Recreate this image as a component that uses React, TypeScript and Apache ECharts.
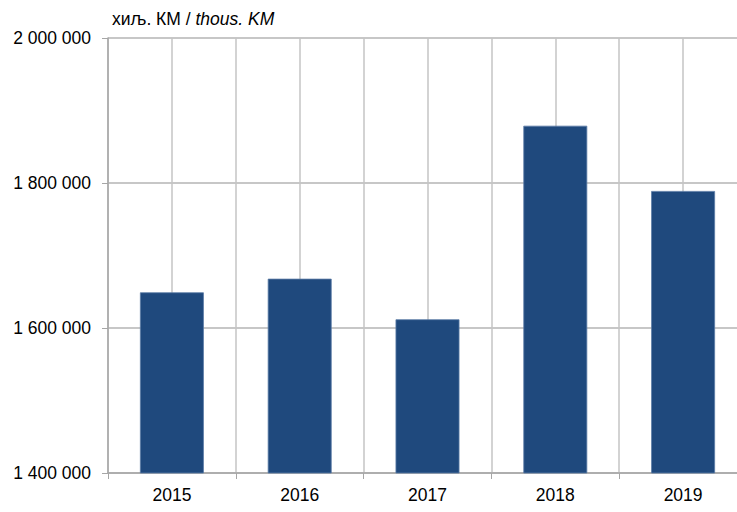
import React, { useEffect, useRef } from "react";
import * as echarts from "echarts";

const categories = ["2015", "2016", "2017", "2018", "2019"];
const values = [1649200, 1668000, 1612000, 1879000, 1789000];
const yTicks = { min: 1400000, max: 2000000, interval: 200000 };
const titleNormal = "хиљ. КМ / ";
const titleItalic = "thous. KM";

function fmt(v: number): string {
  return String(v).replace(/\B(?=(\d{3})+(?!\d))/g, " ");
}

export default function App() {
  const ref = useRef<HTMLDivElement>(null);
  useEffect(() => {
    const chart = echarts.init(ref.current!, null, { renderer: "svg" });
    const font = "'Liberation Sans', Arial, sans-serif";
    const fs = 17.5;
    chart.setOption({
      animation: false,
      textStyle: { fontFamily: font },
      title: {
        text: `{a|${titleNormal}}{b|${titleItalic}}`,
        left: 107,
        top: 5,
        textStyle: {
          fontWeight: "normal",
          rich: {
            a: { fontSize: fs, color: "#000", fontWeight: "normal", fontFamily: font },
            b: { fontSize: fs, color: "#000", fontWeight: "normal", fontStyle: "italic", fontFamily: font },
          },
        },
      },
      grid: { left: 108, right: 13, top: 38, bottom: 39, containLabel: false },
      xAxis: [
        {
          type: "category",
          data: categories,
          boundaryGap: true,
          axisLine: { show: true, lineStyle: { color: "#a6a6a6", width: 1.5 } },
          axisTick: { show: true, length: 6, lineStyle: { color: "#a6a6a6", width: 1 } },
          axisLabel: { color: "#000", fontSize: fs, margin: 13, fontFamily: font },
          splitLine: { show: false },
        },
        {
          type: "value",
          min: 0,
          max: 10,
          interval: 1,
          position: "top",
          axisLine: { show: false },
          axisTick: { show: false },
          axisLabel: { show: false },
          splitLine: { show: true, lineStyle: { color: "#c4c4c4", width: 1.5 } },
        },
      ],
      yAxis: {
        type: "value",
        min: yTicks.min,
        max: yTicks.max,
        interval: yTicks.interval,
        axisLine: { show: true, lineStyle: { color: "#a6a6a6", width: 1.5 } },
        axisTick: { show: true, length: 6, lineStyle: { color: "#a6a6a6", width: 1 } },
        axisLabel: { color: "#000", fontSize: fs, margin: 17, fontFamily: font, formatter: (v: number) => fmt(v) },
        splitLine: { show: true, lineStyle: { color: "#b4b4b4", width: 1.5 } },
      },
      series: [
        {
          type: "bar",
          xAxisIndex: 0,
          data: values,
          barWidth: "50%",
          itemStyle: { color: "#1f497d", borderColor: "#5b7ba6", borderWidth: 0.8 },
          z: 3,
        },
      ],
    });
    return () => chart.dispose();
  }, []);
  return (
    <div style={{ position: "fixed", left: 0, top: 0, width: 737, height: 512, overflow: "hidden", background: "#fff" }}>
      <div ref={ref} style={{ width: 760, height: 512 }} />
    </div>
  );
}
